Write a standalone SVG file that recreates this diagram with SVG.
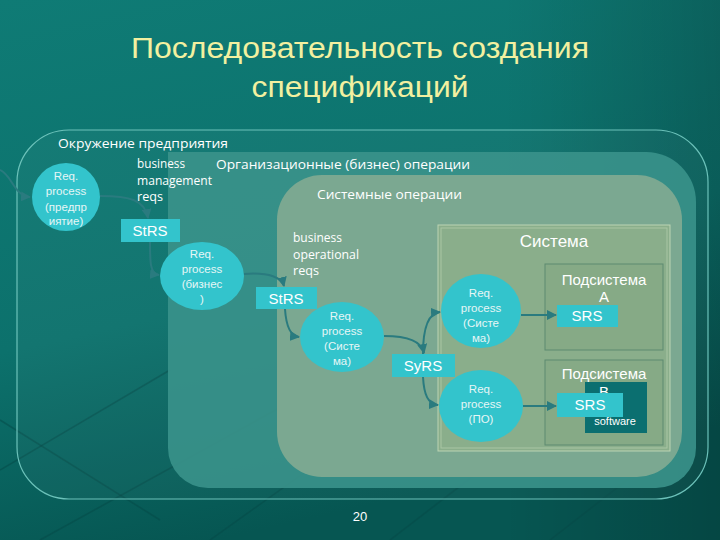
<svg xmlns="http://www.w3.org/2000/svg" width="720" height="540" viewBox="0 0 720 540">
<style>
.t{font-family:"Liberation Sans",Arial,sans-serif;fill:#ffffff}
.c{font-family:"Open Sans","Noto Sans",sans-serif;fill:#ffffff;font-size:13px}
.el{fill:#33c4cc}
.et{font-family:"Liberation Sans",Arial,sans-serif;fill:#e6f6f6;font-size:11.5px;text-anchor:middle}
.box{fill:#33c4cc}
.bt{font-family:"Liberation Sans",Arial,sans-serif;fill:#ffffff;font-size:15px;text-anchor:middle}
.conn{fill:none;stroke:#2a7b7f;stroke-width:2}
.deco{stroke:#064a48;stroke-width:1.5;opacity:0.5}
</style>
<defs>
<linearGradient id="bg" x1="0" y1="0" x2="0.3" y2="1">
<stop offset="0" stop-color="#0f7b75"/>
<stop offset="0.6" stop-color="#0c716c"/>
<stop offset="1" stop-color="#065652"/>
</linearGradient>
<linearGradient id="bgr" x1="0" y1="0" x2="1" y2="0">
<stop offset="0.7" stop-color="#000000" stop-opacity="0"/>
<stop offset="1" stop-color="#000000" stop-opacity="0.18"/>
</linearGradient>
<marker id="ah" viewBox="0 0 10 10" refX="9" refY="5" markerWidth="5" markerHeight="5" orient="auto">
<path d="M0,0 L10,5 L0,10 z" fill="#2a7b7f"/>
</marker>
</defs>
<rect width="720" height="540" fill="url(#bg)"/>
<rect width="720" height="540" fill="url(#bgr)"/>
<g id="decoration">
<line class="deco" x1="0" y1="470" x2="170" y2="370"/>
<line class="deco" x1="40" y1="540" x2="330" y2="380"/>
<line class="deco" x1="210" y1="540" x2="420" y2="390"/>
<line class="deco" x1="390" y1="540" x2="520" y2="440"/>
<line class="deco" x1="550" y1="540" x2="640" y2="470"/>
<line class="deco" x1="0" y1="420" x2="160" y2="520"/>
</g>
<g id="outer">
<rect x="17" y="130" width="691" height="369" rx="52" fill="#ffffff" fill-opacity="0.03" stroke="#6cc2ba" stroke-width="1.2"/>
<text class="c" x="58" y="148" textLength="170" lengthAdjust="spacingAndGlyphs">Окружение предприятия</text>
</g>
<g id="org">
<path d="M168,152 H646 A50,50 0 0 1 696,202 V448 A40,40 0 0 1 656,488 H208 A40,40 0 0 1 168,448 Z" fill="#3a928b" fill-opacity="0.9"/>
<text class="c" x="216" y="169" textLength="254" lengthAdjust="spacingAndGlyphs">Организационные (бизнес) операции</text>
</g>
<g id="sysops">
<rect x="277" y="175" width="405" height="302" rx="45" fill="#7ba891"/>
<text class="c" x="317" y="199" textLength="145" lengthAdjust="spacingAndGlyphs">Системные операции</text>
</g>
<g id="system">
<rect x="438" y="225" width="232" height="226" fill="#8aae8b" stroke="#bcd4b4" stroke-width="1"/>
<rect x="441" y="228" width="226" height="220" fill="none" stroke="#a9c6a4" stroke-width="1"/>
<text class="t" x="554" y="247" font-size="17" text-anchor="middle">Система</text>
</g>
<g id="subA">
<rect x="545" y="264" width="118" height="86" fill="#86aa86" stroke="#5d8a70" stroke-width="1"/>
<text class="t" x="604" y="285" font-size="15" text-anchor="middle">Подсистема</text>
<text class="t" x="604" y="302" font-size="15" text-anchor="middle">A</text>
</g>
<g id="subB">
<rect x="545" y="360" width="118" height="85" fill="#86aa86" stroke="#5d8a70" stroke-width="1"/>
<rect x="585" y="382" width="62" height="51" fill="#0b6f70"/>
<text class="t" x="604" y="379" font-size="15" text-anchor="middle">Подсистема</text>
<text class="t" x="604" y="397" font-size="15" text-anchor="middle">B</text>
<text class="t" x="615" y="425" font-size="11" text-anchor="middle">software</text>
</g>
<g id="bmr">
<text class="c" x="137" y="168" textLength="48" lengthAdjust="spacingAndGlyphs">business</text>
<text class="c" x="137" y="185" textLength="75" lengthAdjust="spacingAndGlyphs">management</text>
<text class="c" x="137" y="201" textLength="26" lengthAdjust="spacingAndGlyphs">reqs</text>
</g>
<g id="bor">
<text class="c" x="293" y="242" textLength="49" lengthAdjust="spacingAndGlyphs">business</text>
<text class="c" x="293" y="259" textLength="66" lengthAdjust="spacingAndGlyphs">operational</text>
<text class="c" x="293" y="275" textLength="26" lengthAdjust="spacingAndGlyphs">reqs</text>
</g>
<g id="connectors">
<path class="conn" d="M0,170 C12,175 14,196 30,197" marker-end="url(#ah)"/>
<path class="conn" d="M100,196 C130,196 145,200 148,218" marker-end="url(#ah)"/>
<path class="conn" d="M150,242 C150,262 150,274 159,275" marker-end="url(#ah)"/>
<path class="conn" d="M244,274 C270,272 282,278 284,286" marker-end="url(#ah)"/>
<path class="conn" d="M285,309 C286,325 290,336 299,337" marker-end="url(#ah)"/>
<path class="conn" d="M384,336 C410,336 422,343 424,353" marker-end="url(#ah)"/>
<path class="conn" d="M423,354 C423,330 428,313 440,312" marker-end="url(#ah)"/>
<path class="conn" d="M423,377 C424,395 428,404 438,405" marker-end="url(#ah)"/>
<path class="conn" d="M521,315 L556,315" marker-end="url(#ah)"/>
<path class="conn" d="M523,406 L556,406" marker-end="url(#ah)"/>
</g>
<g id="rp1">
<ellipse class="el" cx="66" cy="197" rx="34" ry="34"/>
<text class="et" x="66" y="180">Req.</text>
<text class="et" x="66" y="195">process</text>
<text class="et" x="66" y="211">(предпр</text>
<text class="et" x="66" y="225">иятие)</text>
</g>
<g id="strs1">
<rect class="box" x="121" y="219" width="59" height="23"/>
<text class="bt" x="150" y="236">StRS</text>
</g>
<g id="rp2">
<ellipse class="el" cx="202" cy="276" rx="42" ry="34"/>
<text class="et" x="202" y="258">Req.</text>
<text class="et" x="202" y="273">process</text>
<text class="et" x="202" y="288">(бизнес</text>
<text class="et" x="202" y="303">)</text>
</g>
<g id="strs2">
<rect class="box" x="256" y="287" width="61" height="22"/>
<text class="bt" x="286" y="304">StRS</text>
</g>
<g id="rp3">
<ellipse class="el" cx="342" cy="337" rx="42" ry="35"/>
<text class="et" x="342" y="320">Req.</text>
<text class="et" x="342" y="335">process</text>
<text class="et" x="342" y="350">(Систе</text>
<text class="et" x="342" y="365">ма)</text>
</g>
<g id="syrs">
<rect class="box" x="392" y="354" width="63" height="23"/>
<text class="bt" x="423" y="371">SyRS</text>
</g>
<g id="rp4">
<ellipse class="el" cx="481" cy="311" rx="40" ry="37"/>
<text class="et" x="481" y="297">Req.</text>
<text class="et" x="481" y="312">process</text>
<text class="et" x="481" y="327">(Систе</text>
<text class="et" x="481" y="342">ма)</text>
</g>
<g id="rp5">
<ellipse class="el" cx="481" cy="406" rx="42" ry="36"/>
<text class="et" x="481" y="393">Req.</text>
<text class="et" x="481" y="408">process</text>
<text class="et" x="481" y="423">(ПО)</text>
</g>
<g id="srsA">
<rect class="box" x="557" y="305" width="61" height="22"/>
<text class="bt" x="587" y="321">SRS</text>
</g>
<g id="srsB">
<rect class="box" x="557" y="393" width="66" height="24"/>
<text class="bt" x="590" y="410">SRS</text>
</g>
<g id="title">
<text class="t" x="360" y="58" font-size="29" text-anchor="middle" style="fill:#f2f0a0" textLength="458" lengthAdjust="spacingAndGlyphs">Последовательность создания</text>
<text class="t" x="360" y="97" font-size="29" text-anchor="middle" style="fill:#f2f0a0" textLength="217" lengthAdjust="spacingAndGlyphs">спецификаций</text>
</g>
<text class="t" x="360" y="521" font-size="13" text-anchor="middle">20</text>
</svg>
